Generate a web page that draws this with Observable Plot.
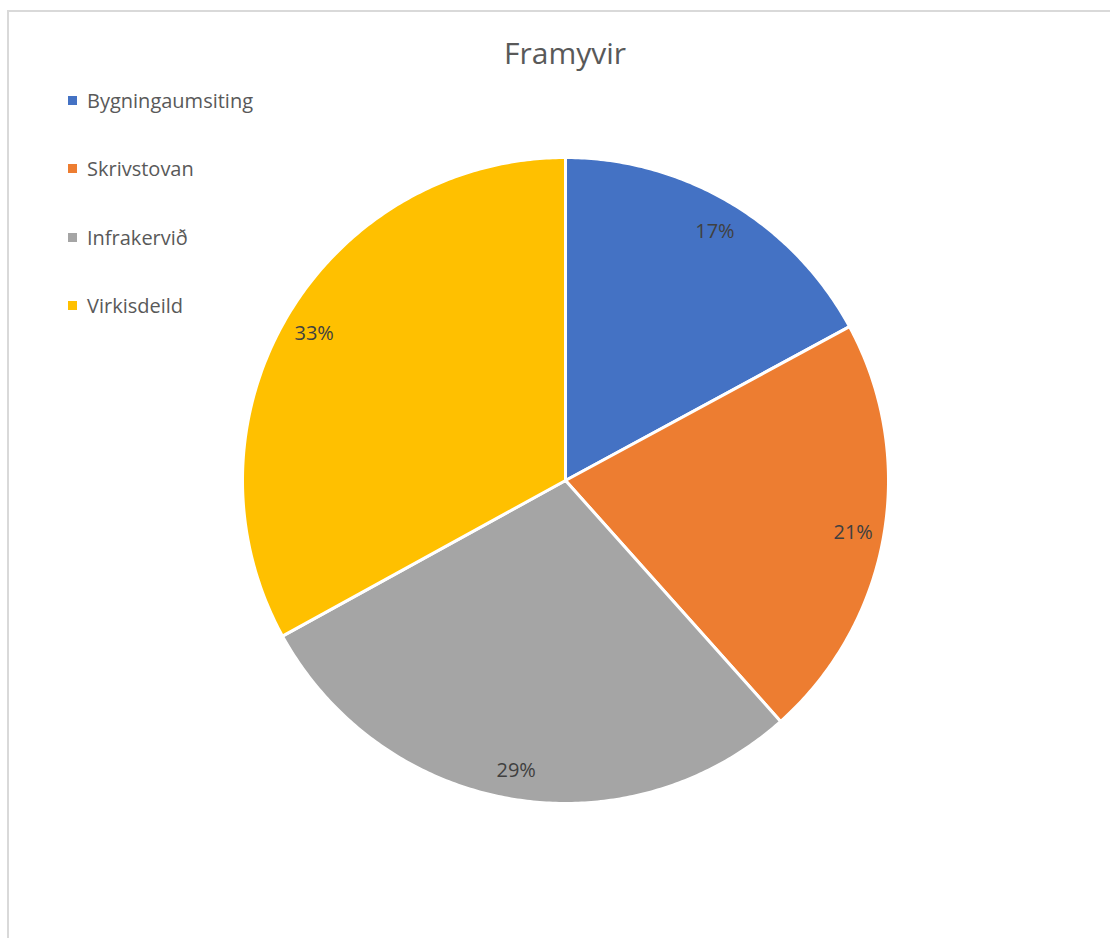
<!DOCTYPE html>
<html><head><meta charset="utf-8">
<script src="https://cdn.jsdelivr.net/npm/d3@7"></script>
<script src="https://cdn.jsdelivr.net/npm/@observablehq/plot@0.6"></script>
<style>
html,body{margin:0;padding:0;background:#fff;overflow:hidden;}
#wrap{position:relative;width:1110px;height:938px;font-family:"Open Sans",sans-serif;}
#frame{position:absolute;left:7px;top:10px;width:1200px;height:1000px;border-left:2px solid #d9d9d9;border-top:2px solid #d9d9d9;box-sizing:border-box;}
#title{position:absolute;left:0;width:1130px;top:33px;text-align:center;font-size:30px;color:#595959;line-height:40px;}
#legend{position:absolute;left:68px;top:86px;}
.item{position:relative;height:68.3px;font-size:20px;color:#595959;line-height:30px;white-space:nowrap;}
.sw{display:inline-block;width:9px;height:9px;margin-right:10px;vertical-align:middle;position:relative;top:-2px;}
#chart{position:absolute;left:0;top:0;}
</style></head>
<body>
<div id="wrap">
  <div id="frame"></div>
  <div id="chart"></div>
  <div id="title">Framyvir</div>
  <div id="legend"></div>
</div>
<script>
const categories = ["Bygningaumsiting", "Skrivstovan", "Infrakervið", "Virkisdeild"];
const values = [17.1, 21.3, 28.6, 33.0];
const colors = ["#4472C4", "#ED7D31", "#A5A5A5", "#FFC000"];
const chartTitle = "Framyvir";

const rows = categories.map((name, i) => ({name, value: values[i]}));
const total = d3.sum(values);
const arcs = d3.pie().sort(null).value(d => d.value)(rows);

const R = 323, labelR = 292;
const W = 1110, H = 938, cx = 565, cy = 480;

// slice outlines in data space (unit: px-equivalent around centre)
const slicePts = [];
for (const a of arcs) {
  const n = Math.max(2, Math.ceil((a.endAngle - a.startAngle) / 0.01));
  slicePts.push({name: a.data.name, x: 0, y: 0});
  for (let k = 0; k <= n; k++) {
    const t = a.startAngle + (a.endAngle - a.startAngle) * k / n;
    slicePts.push({name: a.data.name, x: R * Math.sin(t), y: -R * Math.cos(t)});
  }
}
const labels = arcs.map(a => {
  const m = (a.startAngle + a.endAngle) / 2;
  return {name: a.data.name, x: labelR * Math.sin(m), y: -labelR * Math.cos(m),
          text: d3.format(".0%")(a.data.value / total)};
});

const plot = Plot.plot({
  width: W, height: H,
  margin: 0,
  style: {background: "transparent", fontFamily: "Open Sans, sans-serif"},
  x: {domain: [-cx, W - cx], range: [0, W], axis: null},
  y: {domain: [-cy, H - cy], range: [0, H], axis: null},
  color: {domain: categories, range: colors},
  marks: [
    Plot.line(slicePts, {x: "x", y: "y", z: "name", fill: "name", stroke: "white", strokeWidth: 3, curve: "linear-closed", strokeLinejoin: "round"}),
    Plot.text(labels, {x: "x", y: "y", dy: 2, text: "text", fill: "#404040", fontSize: 20})
  ]
});
document.getElementById("chart").appendChild(plot);
document.getElementById("title").textContent = chartTitle;

const leg = document.getElementById("legend");
categories.forEach((c, i) => {
  const d = document.createElement("div");
  d.className = "item";
  const s = document.createElement("span");
  s.className = "sw"; s.style.background = colors[i];
  d.appendChild(s);
  d.appendChild(document.createTextNode(c));
  leg.appendChild(d);
});
</script>
</body></html>
